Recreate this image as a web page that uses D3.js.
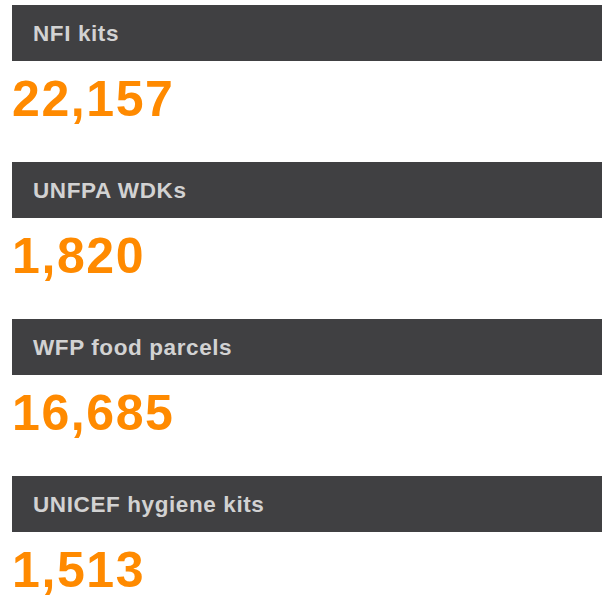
<!DOCTYPE html>
<html>
<head>
<meta charset="utf-8">
<script src="https://cdn.jsdelivr.net/npm/d3@7"></script>
<style>
  body { margin: 0; background: #fff; }
  svg { display: block; }
</style>
</head>
<body>
<svg id="vis"></svg>
<script>
// etiquetas y valores de cada tarjeta
const categorias = ["NFI kits", "UNFPA WDKs", "WFP food parcels", "UNICEF hygiene kits"];
const valores = [22157, 1820, 16685, 1513];

const WIDTH = 605,
  HEIGHT = 596;

const margins = { top: 5, left: 12, right: 3 };
const altoBarra = 56;

const svg = d3.select("#vis")
  .attr("width", WIDTH)
  .attr("height", HEIGHT)
  .style("font-family", "'Liberation Sans', Arial, sans-serif");

const escalaY = d3.scalePoint()
  .domain(categorias)
  .range([margins.top, 476]);

const formato = d3.format(",");

const datos = categorias.map((c, i) => ({ nombre: c, valor: valores[i] }));

const tarjetas = svg.selectAll("g.tarjeta")
  .data(datos)
  .join("g")
  .attr("class", "tarjeta")
  .attr("transform", d => `translate(${margins.left} ${escalaY(d.nombre)})`);

tarjetas.append("rect")
  .attr("width", WIDTH - margins.left - margins.right)
  .attr("height", altoBarra)
  .attr("fill", "#404042");

// titulo de la tarjeta
tarjetas.append("text")
  .attr("x", 21)
  .attr("y", 36)
  .attr("fill", "#d2d2d2")
  .attr("font-size", 22.5)
  .attr("font-weight", "bold")
  .attr("letter-spacing", 0.6)
  .text(d => d.nombre);

// numero grande
tarjetas.append("text")
  .attr("x", 0)
  .attr("y", 111)
  .attr("fill", "#ff8a00")
  .attr("font-size", 50)
  .attr("font-weight", "bold")
  .attr("letter-spacing", 1.6)
  .text(d => formato(d.valor));
</script>
</body>
</html>
